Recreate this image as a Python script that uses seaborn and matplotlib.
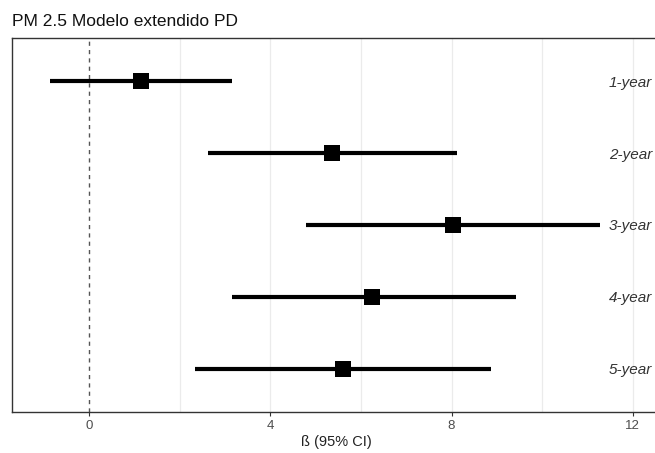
import matplotlib
matplotlib.use("Agg")
import matplotlib.pyplot as plt
import seaborn as sns
import pandas as pd
import numpy as np

periods = ["1-year", "2-year", "3-year", "4-year", "5-year"]
beta = [1.15, 5.36, 8.03, 6.25, 5.61]
ci_low = [-0.86, 2.63, 4.79, 3.16, 2.34]
ci_high = [3.16, 8.12, 11.28, 9.43, 8.87]
xticks = [0, 4, 8, 12]

sns.set_theme(style="white")
plt.rcParams['font.family'] = ['Liberation Sans', 'DejaVu Sans']

df = pd.DataFrame({"period": periods, "beta": beta, "lo": ci_low, "hi": ci_high})
df["row"] = np.arange(1, len(periods) + 1)

W, H = 655, 453
fig = plt.figure(figsize=(W / 100, H / 100), dpi=100)
left, right, top, bottom = 12, 660, 38, 412
ax = fig.add_axes([left / W, 1 - bottom / H, (right - left) / W, (bottom - top) / H])

# gridlines
for gx in [2, 4, 6, 8, 10, 12]:
    ax.axvline(gx, color="#ebebeb", lw=0.9, zorder=0)
ax.axvline(0, color="#555555", lw=1.0, ls=(0, (3, 3)), zorder=1)

ax.hlines(df["row"], df["lo"], df["hi"], color="black", lw=3, zorder=2)
sns.scatterplot(data=df, x="beta", y="row", marker="s", s=135, color="black",
                edgecolor="black", linewidth=0, ax=ax, zorder=3, legend=False)

for r, lab in zip(df["row"], df["period"]):
    ax.text(12.43, r + 0.02, lab, ha="right", va="center", fontsize=11,
            style="italic", color="#333333")

ax.set_xlim(-1.70, 12.6)
ax.set_ylim(5.6, 0.4)
ax.set_yticks([])
ax.set_xticks(xticks)
ax.set_xticklabels([str(t) for t in xticks], fontsize=9.5, color="#4d4d4d")
ax.tick_params(axis="x", length=3, width=0.8, color="#333333", pad=3, bottom=True)
ax.set_xlabel("ß (95% CI)", fontsize=10.5, color="#222222", labelpad=2)
ax.set_ylabel("")
for sp in ax.spines.values():
    sp.set_color("#333333")
    sp.set_linewidth(1.0)

fig.text(12 / W, 1 - 21 / H, "PM 2.5 Modelo extendido PD", fontsize=12.5,
         color="#111111", ha="left", va="center")

fig.savefig("out.png", dpi=100)
